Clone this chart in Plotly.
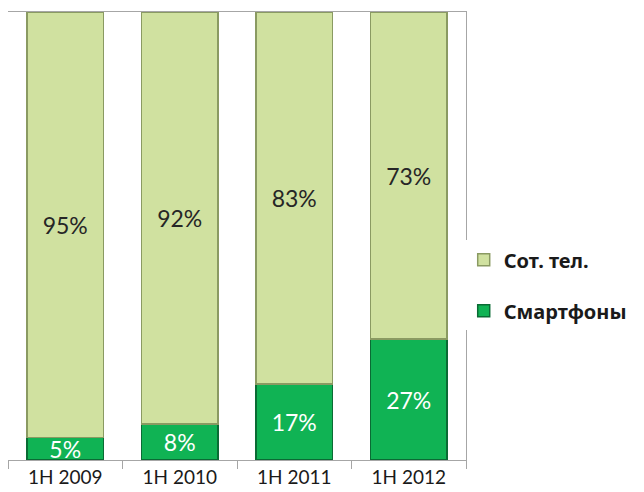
import plotly.graph_objects as go

# ── Data ──────────────────────────────────────────────────────────────────────
periods     = ["1H 2009", "1H 2010", "1H 2011", "1H 2012"]
smartphones = [5, 8, 17, 27]
phones      = [95, 92, 83, 73]

_LIGHT   = "#d0e1a0"
_LIGHT_E = "#8a9a62"
_DARK    = "#10b354"
_DARK_E  = "#0a6b34"
_AXIS    = "#a6a6a6"
_FONT    = "Lato, 'Noto Sans', sans-serif"

fig = go.Figure()

fig.add_trace(go.Bar(
    x=periods, y=smartphones, name="Смартфоны",
    marker=dict(color=_DARK, line=dict(color=_DARK_E, width=1.5)),
    text=[f"{v}%" for v in smartphones],
    textposition="inside", insidetextanchor="middle",
    textfont=dict(color="white", size=23, family=_FONT),
    constraintext="none",
    legendgroup="a", legendrank=2,
))
fig.add_trace(go.Bar(
    x=periods, y=phones, name="Сот. тел.",
    marker=dict(color=_LIGHT, line=dict(color=_LIGHT_E, width=1.5)),
    text=[f"{v}%" for v in phones],
    textposition="inside", insidetextanchor="middle",
    textfont=dict(color="#262626", size=23, family=_FONT),
    constraintext="none",
    legendgroup="b", legendrank=1,
))

# page body adds an 8px offset, so the figure is sized a bit smaller
fig.update_layout(
    width=636, height=484,
    barmode="stack",
    bargap=0.335,
    paper_bgcolor="white",
    plot_bgcolor="white",
    margin=dict(l=0, r=178, t=4, b=32, autoexpand=False),
    font=dict(family=_FONT, color="#1a1a1a"),
    showlegend=True,
    legend=dict(
        x=0.995, y=0.39, xanchor="left", yanchor="middle",
        traceorder="grouped", tracegroupgap=22,
        font=dict(size=20, color="#1a1a1a", family="'Noto Sans', sans-serif", weight="bold"),
        itemwidth=30,
    ),
    xaxis=dict(
        showline=True, linecolor=_AXIS, linewidth=1, mirror=True,
        ticks="outside", tickson="boundaries", ticklen=8, tickcolor=_AXIS,
        tickfont=dict(size=19, color="#1a1a1a"),
        showgrid=False, zeroline=False, automargin=False,
    ),
    yaxis=dict(
        range=[0, 100], showline=True, linecolor=_AXIS, linewidth=1, mirror=True,
        showticklabels=False, ticks="", showgrid=False, zeroline=False,
        automargin=False,
    ),
)

fig.write_html("out.html")
